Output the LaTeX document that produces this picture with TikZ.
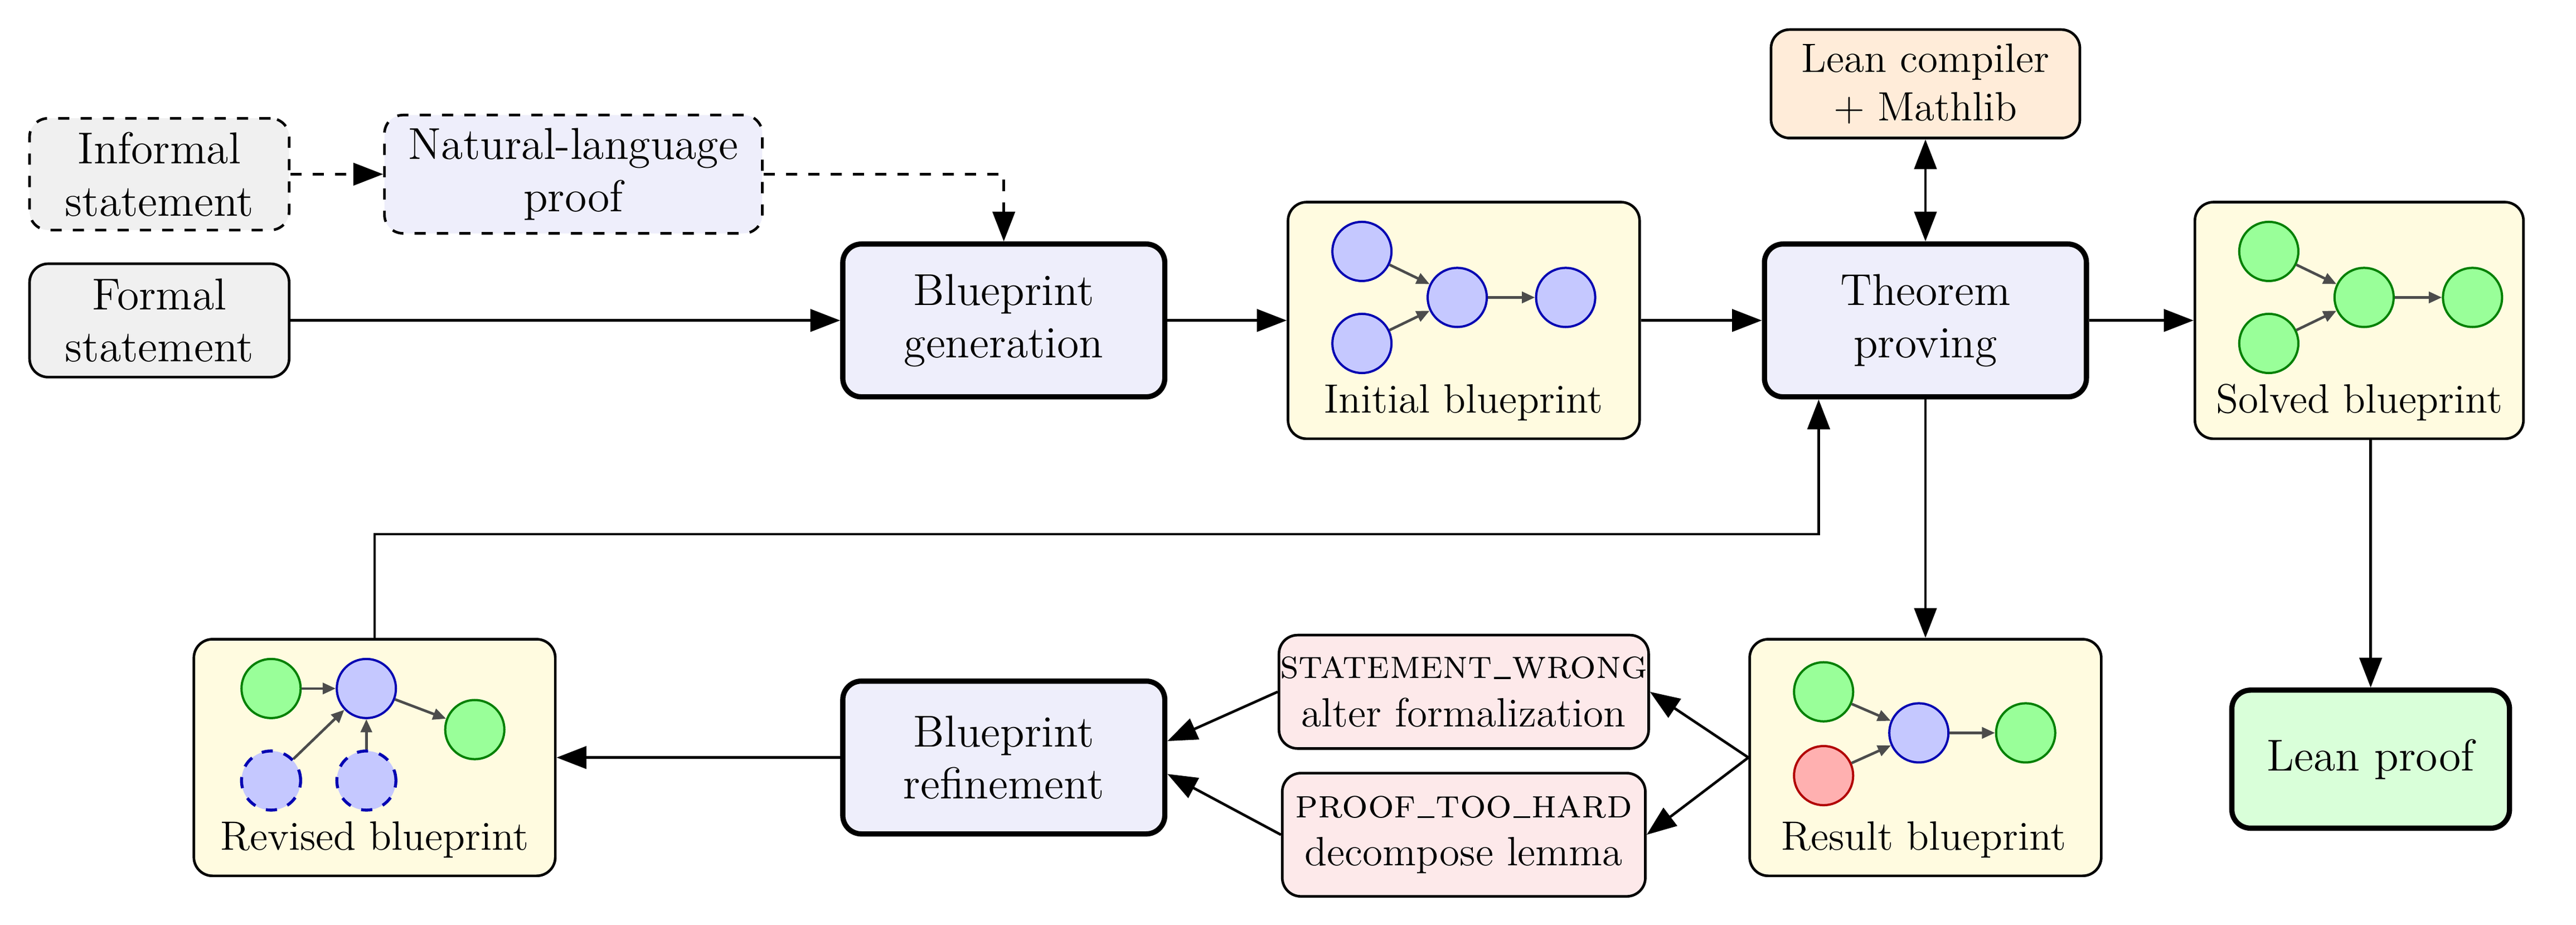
\documentclass[tikz,border=0pt]{standalone}
\usetikzlibrary{arrows.meta}
\begin{document}
\newcommand{\U}{0.0155cm}
\newcommand{\scus}{\kern.04em\rule[-0.2pt]{0.4em}{0.5pt}\kern.04em}
\begin{tikzpicture}[x=0.0155cm,y=-0.0155cm,
  box/.style={draw,rounded corners=5pt,line width=0.7pt,align=center,inner sep=0pt,font=\fontsize{12}{14}\selectfont},
  mainbox/.style={box,line width=1.4pt,fill=procfill},
  bp/.style={box,fill=bpfill,font=\fontsize{11}{13}\selectfont},
  err/.style={box,fill=errfill,font=\fontsize{11}{13}\selectfont},
  arr/.style={-{Triangle[length=8pt,width=6pt]},line width=0.7pt},
  gn/.style={circle,draw=green!50!black,fill=gfill,line width=0.6pt,minimum size=36*\U,inner sep=0pt},
  bn/.style={circle,draw=blue!70!black,fill=bfill,line width=0.6pt,minimum size=36*\U,inner sep=0pt},
  rn/.style={circle,draw=red!70!black,fill=rfill,line width=0.6pt,minimum size=36*\U,inner sep=0pt},
  ie/.style={-{Triangle[length=3.5pt,width=3pt]},draw=black!70,line width=0.7pt}]
\definecolor{procfill}{HTML}{EEEEFB}
\definecolor{bpfill}{HTML}{FFFBE0}
\definecolor{errfill}{HTML}{FDE9EA}
\definecolor{gfill}{HTML}{99FF99}
\definecolor{bfill}{HTML}{C5C8FF}
\definecolor{rfill}{HTML}{FFB0B0}
\useasboundingbox (0,0) rectangle (1568,562.6);

\node[box,dashed,fill=black!6,minimum width=158*\U,minimum height=68*\U] (inf) at (97,106) {Informal\\statement};
\node[box,dashed,fill=procfill,minimum width=230*\U,minimum height=72*\U] (nl) at (349,106) {Natural-language\\proof};
\node[box,fill=black!6,minimum width=158*\U,minimum height=69*\U] (formal) at (97,195) {Formal\\statement};
\node[mainbox,minimum width=196*\U,minimum height=93*\U] (gen) at (611,195) {Blueprint\\generation};
\node[bp,minimum width=214*\U,minimum height=144*\U] (init) at (891,195) {};
\node[mainbox,minimum width=196*\U,minimum height=93*\U] (tp) at (1172,195) {Theorem\\proving};
\node[box,fill=orange!15,minimum width=188*\U,minimum height=66*\U,font=\fontsize{11}{13}\selectfont] (lean) at (1172,51) {Lean compiler\\+ Mathlib};
\node[bp,minimum width=200*\U,minimum height=144*\U] (solved) at (1436,195) {};
\node[mainbox,fill=green!15,minimum width=169*\U,minimum height=84*\U] (proof) at (1443,462) {Lean proof};
\node[bp,minimum width=214*\U,minimum height=144*\U] (res) at (1172,461) {};
\node[err,minimum width=225*\U,minimum height=69*\U] (sw) at (891,421) {\textsc{statement}\scus\textsc{wrong}\\alter formalization};
\node[err,minimum width=221*\U,minimum height=75*\U] (pth) at (891,508) {\textsc{proof}\scus\textsc{too}\scus\textsc{hard}\\decompose lemma};
\node[mainbox,minimum width=196*\U,minimum height=93*\U] (ref) at (611,461) {Blueprint\\refinement};
\node[bp,minimum width=220*\U,minimum height=144*\U] (rev) at (228,461) {};

% inner graphs
\node[bn] (i1) at (829,153) {}; \node[bn] (i2) at (829,209) {};
\node[bn] (i3) at (887,181) {}; \node[bn] (i4) at (953,181) {};
\draw[ie] (i1)--(i3); \draw[ie] (i2)--(i3); \draw[ie] (i3)--(i4);
\node[font=\fontsize{11}{13}\selectfont] (il) at (891,245) {Initial blueprint};
\node[gn] (s1) at (1381,153) {}; \node[gn] (s2) at (1381,209) {};
\node[gn] (s3) at (1439,181) {}; \node[gn] (s4) at (1505,181) {};
\draw[ie] (s1)--(s3); \draw[ie] (s2)--(s3); \draw[ie] (s3)--(s4);
\node[font=\fontsize{11}{13}\selectfont] (sl) at (1436,245) {Solved blueprint};
\node[gn] (r1) at (1110,421) {}; \node[rn] (r2) at (1110,472) {};
\node[bn] (r3) at (1168,446) {}; \node[gn] (r4) at (1233,446) {};
\draw[ie] (r1)--(r3); \draw[ie] (r2)--(r3); \draw[ie] (r3)--(r4);
\node[font=\fontsize{11}{13}\selectfont] (rl) at (1171,511) {Result blueprint};
\node[gn] (v1) at (165,419) {}; \node[bn] (v2) at (223,419) {};
\node[gn] (v3) at (289,444) {};
\node[bn,dashed,line width=0.8pt] (v4) at (165,475) {}; \node[bn,dashed,line width=0.8pt] (v5) at (223,475) {};
\draw[ie] (v1)--(v2); \draw[ie] (v2)--(v3); \draw[ie] (v4)--(v2); \draw[ie] (v5)--(v2);
\node[font=\fontsize{11}{13}\selectfont] (vl) at (228,511) {Revised blueprint};

% connectors
\draw[arr,dashed] (inf)--(nl);
\draw[arr,dashed] (nl.east) -| (gen.north);
\draw[arr] (formal)--(gen);
\draw[arr] (gen)--(init);
\draw[arr] (init)--(tp);
\draw[{Triangle[length=8pt,width=6pt]}-{Triangle[length=8pt,width=6pt]},line width=0.7pt] (tp)--(lean);
\draw[arr] (tp)--(solved);
\draw[arr] (solved.south -| proof.north) -- (proof.north);
\draw[arr] (tp.south) -- (res.north);
\draw[arr] (res.west) -- (sw.east);
\draw[arr] (res.west) -- (pth.east);
\draw[arr] (sw.west) -- ([yshift=10*\U]ref.east);
\draw[arr] (pth.west) -- ([yshift=-10*\U]ref.east);
\draw[arr] (ref)--(rev);
\coordinate (c1) at (228,325);
\coordinate (c2) at (1107,325);
\draw[arr] (rev.north) -- (c1) -- (c2) -- (tp.south -| c2);
\end{tikzpicture}
\end{document}
